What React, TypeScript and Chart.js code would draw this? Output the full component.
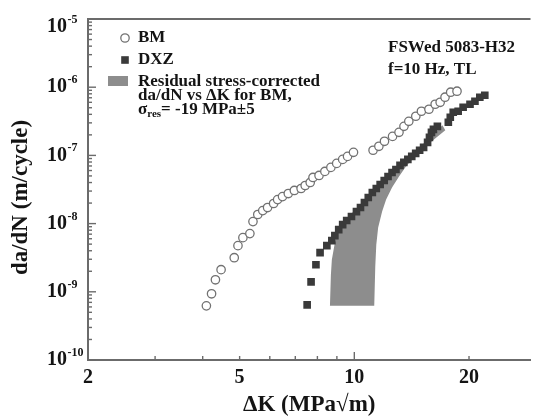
import React, { useEffect, useRef } from "react";
import { Chart, registerables } from "chart.js";

Chart.register(...registerables);

// ---- Data ----
// BM: open circles
const bmDeltaK = [4.09, 4.22, 4.32, 4.47, 4.84, 4.95, 5.10, 5.32, 5.42, 5.58, 5.75, 5.92, 6.14, 6.29, 6.48, 6.71, 6.96, 7.25, 7.43, 7.66, 7.79, 8.08, 8.37, 8.68, 8.99, 9.32, 9.60, 9.95, 11.2, 11.6, 12.0, 12.6, 13.1, 13.5, 13.9, 14.5, 15.0, 15.7, 16.3, 16.8, 17.3, 17.9, 18.6];
const bmRate = [6.22e-10, 9.35e-10, 1.50e-9, 2.11e-9, 3.16e-9, 4.75e-9, 6.22e-9, 7.13e-9, 1.07e-8, 1.36e-8, 1.55e-8, 1.72e-8, 1.97e-8, 2.25e-8, 2.49e-8, 2.76e-8, 3.06e-8, 3.27e-8, 3.62e-8, 4.01e-8, 4.75e-8, 5.08e-8, 5.82e-8, 6.67e-8, 7.63e-8, 8.73e-8, 9.67e-8, 1.11e-7, 1.19e-7, 1.36e-7, 1.61e-7, 1.90e-7, 2.18e-7, 2.67e-7, 3.16e-7, 3.75e-7, 4.44e-7, 4.75e-7, 5.62e-7, 6.01e-7, 7.13e-7, 8.44e-7, 8.73e-7];

// DXZ: filled squares
const dxzDeltaK = [7.52, 7.70, 7.93, 8.13, 8.47, 8.73, 8.89, 9.10, 9.32, 9.55, 9.83, 10.13, 10.38, 10.63, 10.88, 11.15, 11.42, 11.69, 11.98, 12.26, 12.56, 12.86, 13.18, 13.49, 13.82, 14.15, 14.49, 14.84, 15.20, 15.57, 15.75, 15.94, 16.13, 16.52, 17.65, 17.86, 18.18, 18.73, 19.30, 20.12, 20.73, 21.35, 22.0];
const dxzRate = [6.44e-10, 1.40e-9, 2.49e-9, 3.75e-9, 4.75e-9, 5.62e-9, 6.67e-9, 8.17e-9, 9.67e-9, 1.11e-8, 1.27e-8, 1.50e-8, 1.72e-8, 2.04e-8, 2.41e-8, 2.86e-8, 3.27e-8, 3.75e-8, 4.29e-8, 4.91e-8, 5.62e-8, 6.22e-8, 7.13e-8, 7.89e-8, 8.73e-8, 9.67e-8, 1.07e-7, 1.19e-7, 1.31e-7, 1.55e-7, 1.84e-7, 2.18e-7, 2.41e-7, 2.67e-7, 3.06e-7, 3.62e-7, 4.29e-7, 4.44e-7, 5.08e-7, 5.62e-7, 6.22e-7, 7.13e-7, 7.62e-7];

// Residual-stress-corrected band for BM (sigma_res = -19 MPa ± 5)
const bandLowKDeltaK = [8.63, 8.68, 8.73, 8.89, 9.10, 9.43, 9.89, 10.50, 11.21, 11.98, 12.86, 13.82, 14.93, 16.04, 17.03];
const bandLowKRate = [6.22e-10, 1.78e-9, 2.96e-9, 5.26e-9, 7.63e-9, 1.07e-8, 1.45e-8, 2.04e-8, 2.86e-8, 4.01e-8, 6.02e-8, 9.04e-8, 1.36e-7, 1.97e-7, 2.76e-7];
const bandHighKDeltaK = [17.33, 16.33, 15.38, 14.49, 13.66, 13.10, 12.56, 12.12, 11.83, 11.55, 11.42, 11.35, 11.28];
const bandHighKRate = [2.33e-7, 1.78e-7, 1.36e-7, 1.0e-7, 6.89e-8, 4.91e-8, 3.38e-8, 2.25e-8, 1.50e-8, 8.73e-9, 4.91e-9, 2.33e-9, 6.22e-10];

// Axes
const xMin = 2;
const xMax = 29;
const yMin = 1e-10;
const yMax = 1e-5;
const xTickLabels = [2, 5, 10, 20];
const xTickMarks = [3, 4, 5, 6, 7, 8, 9, 10, 20];
const yExponents = [-10, -9, -8, -7, -6, -5];

const xTitle = "ΔK (MPa√m)";
const yTitle = "da/dN (m/cycle)";
const legendBM = "BM";
const legendDXZ = "DXZ";
const legendBandLines = ["Residual stress-corrected", "da/dN vs ΔK for BM,"];
const legendSigma = { sym: "σ", sub: "res", rest: "= -19 MPa±5" };
const noteLines = ["FSWed 5083-H32", "f=10 Hz, TL"];

// ---- Styles ----
const FONT = '"Liberation Serif", "Times New Roman", serif';
const AXIS = "#6b6b6b";
const TEXT = "#141414";
const BAND = "#8d8d8d";
const SQUARE = "#3a3a3a";
const CIRCLE = "#727272";

const zip = (xs: number[], ys: number[]) => xs.map((x, i) => ({ x, y: ys[i] }));

const decorPlugin = {
  id: "decor",
  afterDraw(chart: any) {
    const { ctx, chartArea: a } = chart;
    const xs = chart.scales.x;
    const ys = chart.scales.y;
    ctx.save();

    // top frame line
    ctx.strokeStyle = AXIS;
    ctx.lineWidth = 2;
    ctx.beginPath();
    ctx.moveTo(a.left, a.top);
    ctx.lineTo(a.right, a.top);
    ctx.stroke();

    // x tick marks (inward)
    ctx.lineWidth = 1.4;
    xTickMarks.forEach((v) => {
      const px = xs.getPixelForValue(v);
      const len = v === 10 ? 8 : 4;
      ctx.beginPath();
      ctx.moveTo(px, a.bottom);
      ctx.lineTo(px, a.bottom - len);
      ctx.stroke();
    });

    // y tick marks (inward)
    for (let e = -10; e <= -6; e++) {
      for (let k = 1; k <= 9; k++) {
        const v = k * Math.pow(10, e);
        const py = ys.getPixelForValue(v);
        const len = k === 1 ? 8 : 4;
        ctx.beginPath();
        ctx.moveTo(a.left, py);
        ctx.lineTo(a.left + len, py);
        ctx.stroke();
      }
    }

    // x tick labels
    ctx.fillStyle = TEXT;
    ctx.font = `bold 20px ${FONT}`;
    ctx.textAlign = "center";
    ctx.textBaseline = "middle";
    xTickLabels.forEach((v) => {
      ctx.fillText(String(v), xs.getPixelForValue(v), a.bottom + 18);
    });

    // y tick labels: 10^e
    yExponents.forEach((e) => {
      const py = Math.max(ys.getPixelForValue(Math.pow(10, e)), a.top + 8);
      const baseRight = a.left - 21;
      ctx.font = `bold 20px ${FONT}`;
      ctx.textAlign = "right";
      ctx.textBaseline = "middle";
      ctx.fillText("10", baseRight, py);
      ctx.font = `bold 12px ${FONT}`;
      ctx.textAlign = "left";
      ctx.fillText(String(e), baseRight + 0.5, py - 7);
    });

    // axis titles
    ctx.font = `bold 23px ${FONT}`;
    ctx.textAlign = "center";
    ctx.textBaseline = "middle";
    ctx.fillText(xTitle, (a.left + a.right) / 2, 405);
    ctx.save();
    ctx.translate(21, (a.top + a.bottom) / 2 + 8);
    ctx.rotate(-Math.PI / 2);
    ctx.fillText(yTitle, 0, 0);
    ctx.restore();

    // legend
    const lx = 125;
    ctx.lineWidth = 1.3;
    ctx.strokeStyle = CIRCLE;
    ctx.fillStyle = "#fff";
    ctx.beginPath();
    ctx.arc(lx, 38, 4.2, 0, Math.PI * 2);
    ctx.fill();
    ctx.stroke();
    ctx.fillStyle = SQUARE;
    ctx.fillRect(lx - 3.8, 60 - 3.8, 7.6, 7.6);
    ctx.fillStyle = BAND;
    ctx.fillRect(108, 76, 20, 10);

    ctx.fillStyle = TEXT;
    ctx.font = `bold 17px ${FONT}`;
    ctx.textAlign = "left";
    ctx.textBaseline = "middle";
    ctx.fillText(legendBM, 138, 38);
    ctx.fillText(legendDXZ, 138, 60);
    ctx.fillText(legendBandLines[0], 138, 82);
    ctx.fillText(legendBandLines[1], 138, 96);
    let sx = 138;
    ctx.fillText(legendSigma.sym, sx, 110);
    sx += ctx.measureText(legendSigma.sym).width;
    ctx.font = `bold 11px ${FONT}`;
    ctx.fillText(legendSigma.sub, sx, 114);
    sx += ctx.measureText(legendSigma.sub).width;
    ctx.font = `bold 17px ${FONT}`;
    ctx.fillText(legendSigma.rest, sx, 110);

    // annotation
    ctx.fillText(noteLines[0], 388, 48);
    ctx.fillText(noteLines[1], 388, 70);

    ctx.restore();
  },
};

export default function App() {
  const ref = useRef<HTMLCanvasElement>(null);

  useEffect(() => {
    const canvas = ref.current;
    if (!canvas) return;
    const chart = new Chart(canvas, {
      type: "scatter",
      data: {
        datasets: [
          {
            label: "DXZ",
            data: zip(dxzDeltaK, dxzRate),
            pointStyle: "rect",
            pointRadius: 5.4,
            backgroundColor: SQUARE,
            borderColor: SQUARE,
            borderWidth: 0,
            order: 1,
          },
          {
            label: "BM",
            data: zip(bmDeltaK, bmRate),
            pointStyle: "circle",
            pointRadius: 4.2,
            backgroundColor: "#ffffff",
            borderColor: CIRCLE,
            borderWidth: 1.3,
            order: 2,
          },
          {
            label: "Residual stress-corrected",
            data: [...zip(bandLowKDeltaK, bandLowKRate), ...zip(bandHighKDeltaK, bandHighKRate)],
            showLine: true,
            fill: "shape",
            backgroundColor: BAND,
            borderColor: BAND,
            borderWidth: 0,
            pointRadius: 0,
            tension: 0,
            order: 3,
          } as any,
        ],
      },
      options: {
        responsive: false,
        animation: false,
        events: [],
        layout: { padding: { left: 88, top: 19, right: 0, bottom: 59 } },
        plugins: { legend: { display: false }, tooltip: { enabled: false } },
        scales: {
          x: {
            type: "logarithmic",
            min: xMin,
            max: xMax,
            ticks: { display: false },
            grid: { display: false, drawTicks: false },
            border: { display: true, color: AXIS, width: 2 },
          },
          y: {
            type: "logarithmic",
            min: yMin,
            max: yMax,
            ticks: { display: false },
            grid: { display: false, drawTicks: false },
            border: { display: true, color: AXIS, width: 2 },
          },
        },
      },
      plugins: [decorPlugin],
    });
    return () => chart.destroy();
  }, []);

  return (
    <div style={{ position: "absolute", left: 0, top: 0, width: 536, height: 419, background: "#fff" }}>
      <canvas ref={ref} width={536} height={419} style={{ display: "block", width: 536, height: 419 }} />
    </div>
  );
}
